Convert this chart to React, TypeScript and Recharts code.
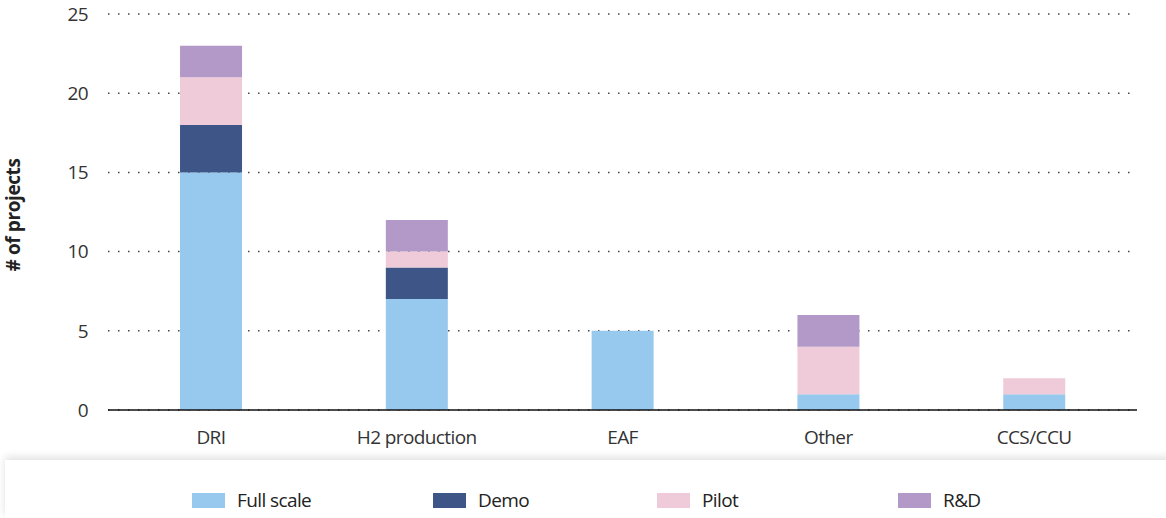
import React from "react";
import { BarChart, Bar, XAxis, YAxis, CartesianGrid, Legend } from "recharts";

const categories = ["DRI", "H2 production", "EAF", "Other", "CCS/CCU"];
const fullScale = [15, 7, 5, 1, 1];
const demo = [3, 2, 0, 0, 0];
const pilot = [3, 1, 0, 3, 1];
const rd = [2, 2, 0, 2, 0];
const yTicks = [0, 5, 10, 15, 20, 25];

const series = [
  { key: "full", name: "Full scale", color: "#97c9ee", values: fullScale },
  { key: "demo", name: "Demo", color: "#3d5687", values: demo },
  { key: "pilot", name: "Pilot", color: "#efcad8", values: pilot },
  { key: "rd", name: "R&D", color: "#b399c8", values: rd },
];

const data = categories.map((c, i) => {
  const row: Record<string, string | number> = { name: c };
  series.forEach((s) => (row[s.key] = s.values[i]));
  return row;
});

const FONT = "'Open Sans', 'Noto Sans', sans-serif";
const itemWidths = [241, 224, 241, 120];

function LegendBox() {
  return (
    <div
      style={{
        position: "relative",
        height: 58,
        background: "#fff",
        boxShadow: "0 -3px 8px rgba(0,0,0,0.12)",
        display: "flex",
        alignItems: "flex-start",
        paddingLeft: 187,
        paddingTop: 27,
        boxSizing: "border-box",
        fontFamily: FONT,
        fontSize: 19,
        letterSpacing: -0.6,
        color: "#222",
      }}
    >
      {series.map((s, i) => (
        <div key={s.key} style={{ width: itemWidths[i], display: "flex", alignItems: "center" }}>
          <span style={{ display: "inline-block", width: 33, height: 15, background: s.color, marginRight: 12 }} />
          <span>{s.name}</span>
        </div>
      ))}
    </div>
  );
}

export default function App() {
  return (
    <div style={{ position: "absolute", left: 0, top: 0, width: 1166, height: 518, overflow: "hidden", background: "#fff" }}>
      <BarChart
        width={1166}
        height={518}
        data={data}
        margin={{ top: 14, right: 29, left: 0, bottom: 10 }}
        barCategoryGap="35%"
      >
        <CartesianGrid vertical={false} stroke="#444" strokeDasharray="1.5 8.5" strokeWidth={1.5} />
        <XAxis
          dataKey="name"
          height={40}
          tickLine={false}
          axisLine={{ stroke: "#111", strokeWidth: 1.5 }}
          tickMargin={15}
          tick={{ fill: "#333", fontSize: 19, fontFamily: FONT, letterSpacing: -0.6 }}
        />
        <YAxis
          width={108}
          domain={[0, 25]}
          ticks={yTicks}
          tickLine={false}
          axisLine={false}
          tickMargin={14}
          tick={{ fill: "#333", fontSize: 19, fontFamily: FONT, letterSpacing: -0.6 }}
          label={{
            value: "# of projects",
            angle: -90,
            position: "insideLeft",
            dx: 8,
            dy: 3,
            style: { textAnchor: "middle", fontWeight: 700, fontSize: 19, fill: "#222", fontFamily: FONT, letterSpacing: -0.4 },
          }}
        />
        <Legend
          verticalAlign="bottom"
          content={() => <LegendBox />}
          wrapperStyle={{ left: 5, width: 1170, bottom: 0 }}
        />
        {series.map((s) => (
          <Bar key={s.key} dataKey={s.key} name={s.name} stackId="a" fill={s.color} isAnimationActive={false} />
        ))}
      </BarChart>
    </div>
  );
}
